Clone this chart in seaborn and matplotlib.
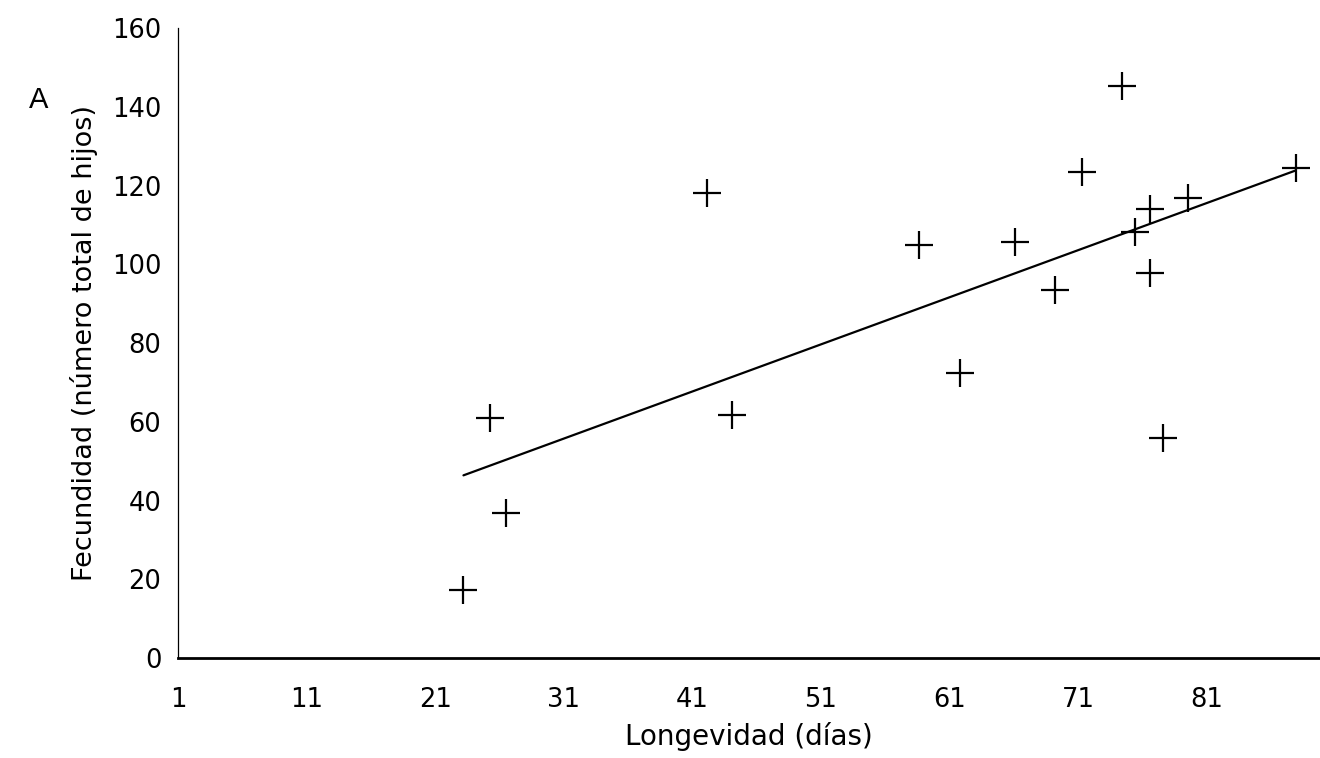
import matplotlib
matplotlib.use("Agg")
import matplotlib.pyplot as plt
import numpy as np
import pandas as pd
import seaborn as sns

# Longevity (days) and total offspring
longevidad = [23.2, 25.3, 26.5, 42.1, 44.1, 58.6, 61.8, 66.1, 69.2, 71.3,
              74.4, 75.4, 76.6, 76.6, 77.6, 79.5, 87.9]
fecundidad = [17.3, 61.0, 36.8, 118.0, 61.7, 104.8, 72.3, 105.6, 93.4, 123.4,
              145.4, 108.1, 114.0, 97.7, 56.0, 116.8, 124.4]

x_ticks = [1, 11, 21, 31, 41, 51, 61, 71, 81]
y_ticks = [0, 20, 40, 60, 80, 100, 120, 140, 160]

df = pd.DataFrame({"Longevidad": longevidad, "Fecundidad": fecundidad})

sns.set_style("white")
plt.rcParams["font.family"] = ["DejaVu Sans"]
for key in ["text.color", "axes.labelcolor", "xtick.color", "ytick.color"]:
	plt.rcParams[key] = "black"

fig = plt.figure(figsize=(13.2, 7.58), dpi=100)
ax = fig.add_axes([0.1348, 0.1319, 0.8652, 0.8311])

sns.regplot(data=df, x="Longevidad", y="Fecundidad", ax=ax, ci=None, marker="+",
			scatter_kws={"s": 420, "color": "black", "linewidths": 1.6, "alpha": 1.0},
			line_kws={"color": "black", "linewidth": 1.6})

ax.set_xlim(1, 89.8)
ax.set_ylim(0, 160)
ax.set_xticks(x_ticks)
ax.set_yticks(y_ticks)
ax.tick_params(axis="both", length=0, labelsize=18.5)
ax.tick_params(axis="x", pad=21)
ax.tick_params(axis="y", pad=12)

for side in ["top", "right"]:
	ax.spines[side].set_visible(False)
ax.spines["left"].set_linewidth(0.9)
ax.spines["bottom"].set_linewidth(2.0)
ax.spines["left"].set_color("black")
ax.spines["bottom"].set_color("black")

ax.set_xlabel("Longevidad (días)", fontsize=20, labelpad=6)
ax.set_ylabel("Fecundidad (número total de hijos)", fontsize=19.5, labelpad=10)

fig.text(0.022, 0.857, "A", fontsize=21, family=["Liberation Sans", "DejaVu Sans"])

fig.savefig("out.png", dpi=100)
